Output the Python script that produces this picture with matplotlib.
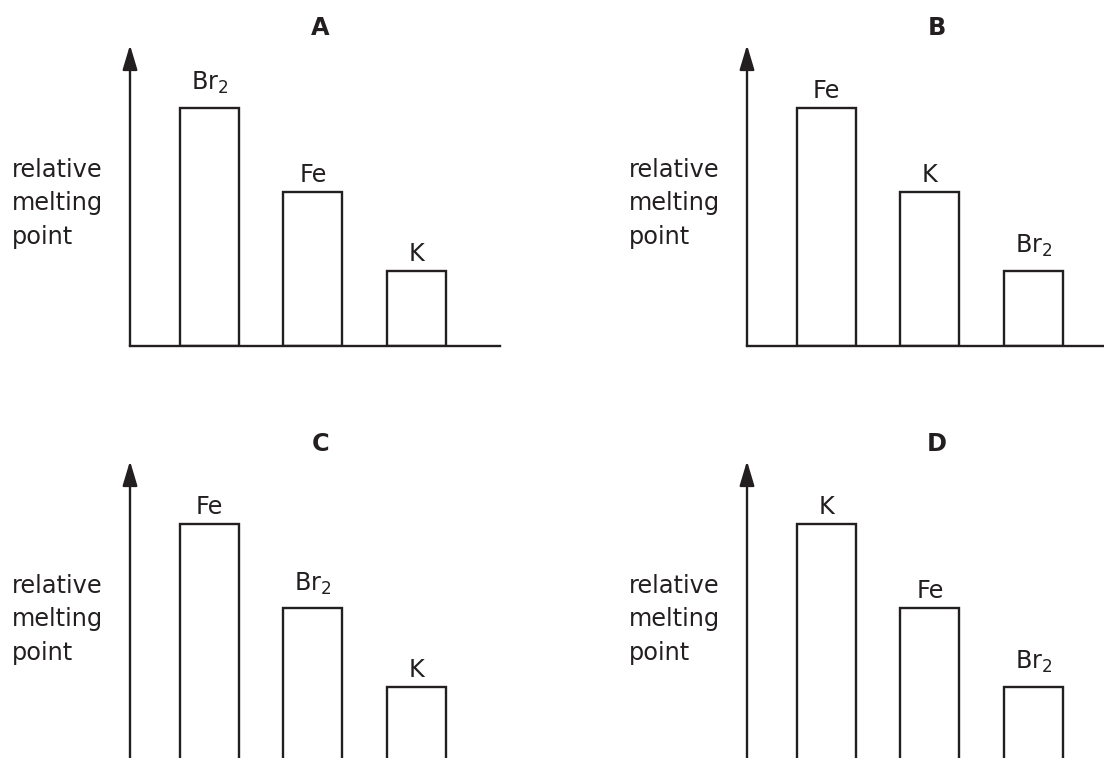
import matplotlib.pyplot as plt

plt.rcParams['font.family'] = ['DejaVu Sans']
plt.rcParams['mathtext.default'] = 'regular'

ink = '#231f20'

# relative melting points (arbitrary units), tallest to shortest
heights = [7.9, 5.1, 2.5]

labels_a = ['Br$_2$', 'Fe', 'K']
labels_b = ['Fe', 'K', 'Br$_2$']
labels_c = ['Fe', 'Br$_2$', 'K']
labels_d = ['K', 'Fe', 'Br$_2$']

panels = [('A', labels_a), ('B', labels_b), ('C', labels_c), ('D', labels_d)]

W, H = 1104, 758
fig = plt.figure(figsize=(W / 100, H / 100), dpi=100)

# axis origin of each panel in pixels (x from left, y from top)
origins = [(130, 346), (747, 346), (130, 762), (747, 762)]
ax_w, ax_h = 370, 301
fs = 17.3

for (name, labels), (ox, oy) in zip(panels, origins):
    ax = fig.add_axes([ox / W, (H - oy) / H, ax_w / W, ax_h / H])
    ax.patch.set_alpha(0)
    xs = range(len(labels))
    bars = ax.bar(xs, heights, width=0.57, facecolor='none', edgecolor=ink,
                  linewidth=1.7)
    for b, lab in zip(bars, labels):
        # labels with a subscript sit higher so the subscript clears the bar
        dy = 13 if '$' in lab else 7.2
        ax.annotate(lab, (b.get_x() + b.get_width() / 2, b.get_height()),
                    xytext=(0, dy), textcoords='offset points',
                    ha='center', va='baseline', fontsize=fs, color=ink)
    ax.set_xlim(-0.768, 2.807)
    ax.set_ylim(0, 10)
    for s in ['top', 'right', 'left']:
        ax.spines[s].set_visible(False)
    ax.spines['bottom'].set_color(ink)
    ax.spines['bottom'].set_linewidth(1.7)
    ax.set_xticks([])
    ax.set_yticks([])
    # y axis drawn as an arrow
    ax.annotate('', xy=(0, 1), xytext=(0, 0), xycoords='axes fraction',
                textcoords='axes fraction',
                arrowprops=dict(arrowstyle='-|>,head_length=15,head_width=4.5',
                                mutation_scale=1, color=ink, linewidth=1.7,
                                shrinkA=0, shrinkB=0))
    ax.text(-0.319, 0.475, 'relative\nmelting\npoint', transform=ax.transAxes,
            ha='left', va='center', fontsize=fs, color=ink, linespacing=1.5)
    ax.text(0.514, 1.056, name, transform=ax.transAxes, ha='center',
            va='center', fontsize=fs, fontweight='bold', color=ink)

fig.savefig('out.png', dpi=100)
